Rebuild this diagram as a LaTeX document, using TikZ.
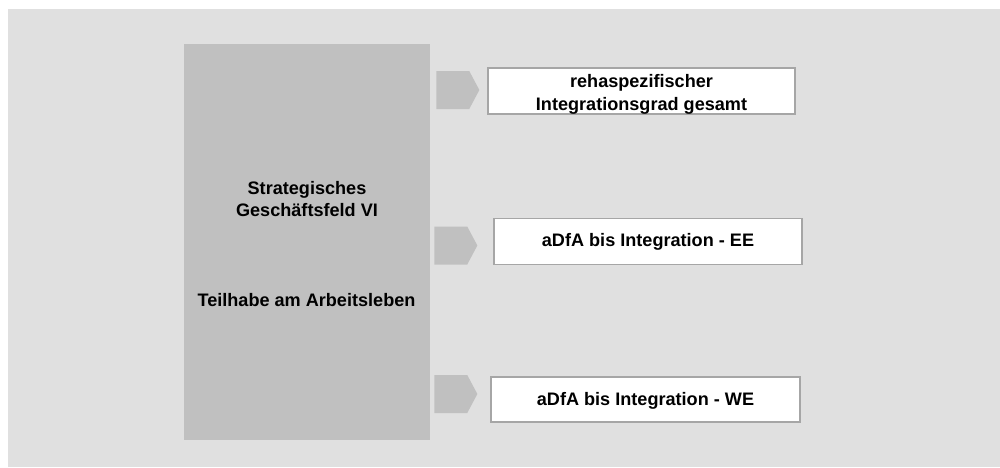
\documentclass[tikz,border=0pt]{standalone}
\usepackage{fontspec}
\setmainfont{Liberation Sans}
\usetikzlibrary{positioning,shapes.symbols}
\definecolor{bgfill}{HTML}{E0E0E0}
\definecolor{fieldfill}{HTML}{C0C0C0}
\definecolor{boxline}{HTML}{A6A6A6}

\begin{document}
\begin{tikzpicture}[x=0.02cm,y=-0.02cm,
    every node/.style={font=\fontsize{10.3}{13}\selectfont\bfseries, align=center},
    fieldbox/.style={fill=fieldfill, minimum width=4.92cm, minimum height=7.92cm, inner sep=0pt},
    kpibox/.style={draw=boxline, line width=1.1pt, fill=white, minimum height=0.92cm, inner sep=0pt},
    chevron/.style={signal, signal to=east, signal pointer angle=124, fill=fieldfill,
      minimum width=0.86cm, minimum height=0.76cm, inner sep=0pt, anchor=west}]
  \useasboundingbox (0,0) rectangle (1000,467);
  \fill[bgfill] (8,9) rectangle (1000,467);
  % strategic field
  \node[fieldbox] (field) at (307,242) {};
  \node (fieldtop) at (307,199) {Strategisches\\Geschäftsfeld VI};
  \node (fieldbot) at (306.5,300) {Teilhabe am Arbeitsleben};
  % indicators
  \node[chevron] (arr1) at (436,90) {};
  \node[chevron] (arr2) at (434,245.5) {};
  \node[chevron] (arr3) at (434,394) {};
  \node[kpibox, minimum width=6.14cm] (kpi1) at (641.5,91) {};
  \node (kpi1txt) at ([yshift=-1.8pt]kpi1.center) {rehaspezifischer\\Integrationsgrad gesamt};
  \node[kpibox, minimum width=6.16cm] (kpi2) at (648,241.5) {aDfA bis Integration - EE};
  \node[kpibox, minimum width=6.18cm, minimum height=0.90cm] (kpi3) at (645.5,399.5) {};
  \node (kpi3txt) at ([yshift=-1pt]kpi3.center) {aDfA bis Integration - WE};
\end{tikzpicture}
\end{document}
